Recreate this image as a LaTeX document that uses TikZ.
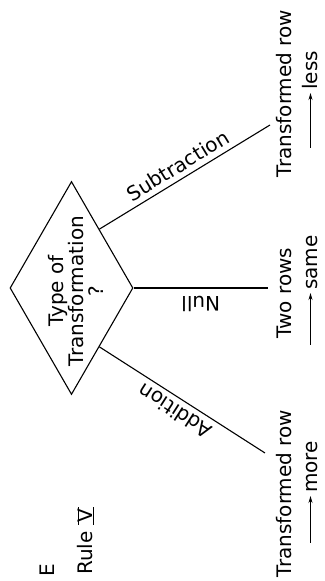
\documentclass[tikz,border=0pt]{standalone}
\usepackage{fontspec}
\setmainfont{DejaVu Sans}
\usetikzlibrary{
  arrows.meta,
  shapes.geometric,
  positioning,
  calc
}
\newcommand{\tightlines}{\lineskiplimit-20pt\relax}
\newcommand{\numeralfive}{\leavevmode\hbox{\ooalign{%
  \hidewidth V\hidewidth\cr
  \rule[-1pt]{18pt}{1.1pt}\cr
  \rule[13.9pt]{18pt}{1.1pt}\cr}}}
\tikzset{
  decision/.style={
    diamond, draw, line width=1.1pt,
    minimum width=213pt, minimum height=123pt,
    inner sep=0pt
  },
  lettering/.style={
    font={\fontsize{20}{20}\selectfont\tightlines},
    inner sep=0pt
  },
  branch/.style={line width=1.1pt},
  branchlabel/.style={font={\fontsize{20}{24}\selectfont}, inner sep=5pt},
  arrow/.style={-{Stealth[length=7pt, width=4pt]}, line width=0.9pt}
}
\begin{document}
\begin{tikzpicture}[rotate=90, transform shape, x=1pt, y=1pt]
\useasboundingbox (0,0) rectangle (581,324);

% Heading
\node[lettering, anchor=base west] (panel) at (4,269) {E};
\node[lettering, anchor=base west] (rule) at (6,231) {Rule \numeralfive};

% Decision
\node[decision] (dec) at (293,252.5) {};
\node[lettering, align=center] (dectext) at (290,248.5)
  {Type of\\Transformation\\?};

% Branches
\coordinate (addend) at (128,59);
\coordinate (nullend) at (293,56);
\coordinate (subend) at (456,54);
\draw[branch] ($(dec.west)!0.45!(dec.south)$) --
  node[branchlabel, sloped, above] (addlabel) {Addition} (addend);
\draw[branch] (dec.south) --
  node[branchlabel, rotate=90, anchor=south, inner sep=8pt] (nulllabel) {Null} (nullend);
\draw[branch] ($(dec.east)!0.45!(dec.south)$) --
  node[branchlabel, sloped, above] (sublabel) {Subtraction} (subend);

% Outcomes
\node[lettering, anchor=base] (morerow) at (87.5,32) {Transformed row};
\node[lettering, anchor=base west, inner sep=3pt] (moreword) at (85,6) {more};
\coordinate (moretail) at (38,13.5);
\draw[arrow] (moretail) -- (moretail -| moreword.west);

\node[lettering, anchor=base] (samerow) at (288,32) {Two rows};
\node[lettering, anchor=base west, inner sep=3pt] (sameword) at (288,6) {same};
\coordinate (sametail) at (236,13.5);
\draw[arrow] (sametail) -- (sametail -| sameword.west);

\node[lettering, anchor=base] (lessrow) at (487.5,32) {Transformed row};
\node[lettering, anchor=base west, inner sep=3pt] (lessword) at (488,6) {less};
\coordinate (lesstail) at (433,13.5);
\draw[arrow] (lesstail) -- (lesstail -| lessword.west);

\end{tikzpicture}
\end{document}
